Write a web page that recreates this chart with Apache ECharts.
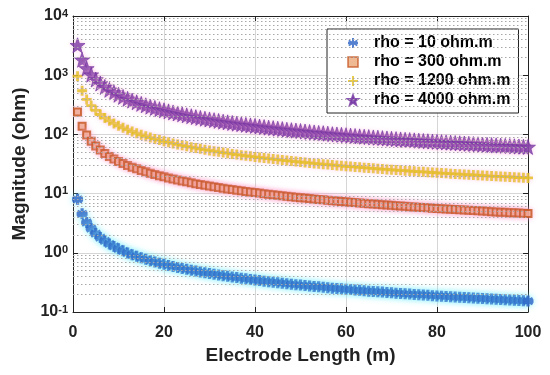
<!DOCTYPE html>
<html>
<head>
<meta charset="utf-8">
<script src="https://cdn.jsdelivr.net/npm/echarts@6/dist/echarts.min.js"></script>
<style>html,body{margin:0;padding:0;background:#fff;}#c{width:550px;height:375px;}</style>
</head>
<body>
<div id="c"></div>
<script>
var lengths = [1,2,3,4,5,6,7,8,9,10,11,12,13,14,15,16,17,18,19,20,21,22,23,24,25,26,27,28,29,30,31,32,33,34,35,36,37,38,39,40,41,42,43,44,45,46,47,48,49,50,51,52,53,54,55,56,57,58,59,60,61,62,63,64,65,66,67,68,69,70,71,72,73,74,75,76,77,78,79,80,81,82,83,84,85,86,87,88,89,90,91,92,93,94,95,96,97,98,99,100];
var rho10 = [8.01,4.55,3.25,2.55,2.11,1.81,1.59,1.41,1.28,1.17,1.08,0.997,0.930,0.872,0.821,0.776,0.736,0.700,0.668,0.639,0.612,0.588,0.565,0.544,0.525,0.507,0.491,0.475,0.461,0.447,0.435,0.423,0.411,0.401,0.390,0.381,0.372,0.363,0.355,0.347,0.339,0.332,0.325,0.319,0.313,0.307,0.301,0.295,0.290,0.285,0.280,0.275,0.270,0.266,0.262,0.257,0.253,0.249,0.246,0.242,0.239,0.235,0.232,0.229,0.225,0.222,0.219,0.217,0.214,0.211,0.208,0.206,0.203,0.201,0.198,0.196,0.194,0.192,0.189,0.187,0.185,0.183,0.181,0.179,0.177,0.176,0.174,0.172,0.170,0.169,0.167,0.165,0.164,0.162,0.161,0.159,0.158,0.156,0.155,0.153];
var rho300 = [240,137,97.5,76.6,63.4,54.3,47.6,42.4,38.3,35.0,32.3,29.9,27.9,26.2,24.6,23.3,22.1,21.0,20.0,19.2,18.4,17.6,17.0,16.3,15.8,15.2,14.7,14.3,13.8,13.4,13.0,12.7,12.3,12.0,11.7,11.4,11.2,10.9,10.6,10.4,10.2,9.97,9.76,9.56,9.38,9.20,9.02,8.85,8.69,8.54,8.39,8.25,8.11,7.97,7.85,7.72,7.60,7.48,7.37,7.26,7.16,7.05,6.95,6.86,6.76,6.67,6.58,6.50,6.41,6.33,6.25,6.17,6.10,6.02,5.95,5.88,5.81,5.75,5.68,5.62,5.56,5.50,5.44,5.38,5.32,5.27,5.21,5.16,5.11,5.06,5.01,4.96,4.91,4.86,4.82,4.77,4.73,4.69,4.64,4.60];
var rho1200 = [961,546,390,306,254,217,190,170,153,140,129,120,112,105,98.5,93.1,88.3,84.0,80.2,76.6,73.4,70.5,67.8,65.3,63.0,60.9,58.9,57.0,55.3,53.7,52.1,50.7,49.3,48.1,46.8,45.7,44.6,43.6,42.6,41.6,40.7,39.9,39.0,38.3,37.5,36.8,36.1,35.4,34.8,34.2,33.6,33.0,32.4,31.9,31.4,30.9,30.4,29.9,29.5,29.0,28.6,28.2,27.8,27.4,27.0,26.7,26.3,26.0,25.6,25.3,25.0,24.7,24.4,24.1,23.8,23.5,23.3,23.0,22.7,22.5,22.2,22.0,21.7,21.5,21.3,21.1,20.8,20.6,20.4,20.2,20.0,19.8,19.6,19.5,19.3,19.1,18.9,18.7,18.6,18.4];
var rho4000 = [3200,1820,1300,1020,845,724,634,566,511,467,430,399,372,349,328,310,294,280,267,255,245,235,226,218,210,203,196,190,184,179,174,169,164,160,156,152,149,145,142,139,136,133,130,128,125,123,120,118,116,114,112,110,108,106,105,103,101,99.8,98.3,96.8,95.4,94.0,92.7,91.4,90.2,88.9,87.8,86.6,85.5,84.4,83.3,82.3,81.3,80.3,79.4,78.4,77.5,76.6,75.8,74.9,74.1,73.3,72.5,71.7,71.0,70.2,69.5,68.8,68.1,67.4,66.8,66.1,65.4,64.8,64.2,63.6,63.0,62.5,61.9,61.3];
var seriesNames = ['rho = 10 ohm.m','rho = 300 ohm.m','rho = 1200 ohm.m','rho = 4000 ohm.m'];
var xTicks = [0,20,40,60,80,100];
var yDecades = [0.1,1,10,100,1000,10000];

function pairs(ys){ return lengths.map(function(x,i){ return [x, ys[i]]; }); }

var minorVals = [];
for (var d = 0; d < yDecades.length - 1; d++) {
  for (var m = 2; m <= 9; m++) minorVals.push({yAxis: +(yDecades[d]*m).toPrecision(3)});
}

var FONT = '"Liberation Sans", Arial, sans-serif';
var asterisk = 'path://M0,-5L0,5M-4.33,-2.5L4.33,2.5M-4.33,2.5L4.33,-2.5M-5,0L5,0';
var plus = 'path://M0,-5L0,5M-5,0L5,0';
var star = 'path://M0,-10L2.35,-3.24L9.51,-3.09L3.8,1.24L5.88,8.09L0,4L-5.88,8.09L-3.8,1.24L-9.51,-3.09L-2.35,-3.24Z';

var chart = echarts.init(document.getElementById('c'), null, {renderer:'canvas'});
chart.setOption({
  animation: false,
  backgroundColor: '#fff',
  textStyle: {fontFamily: FONT},
  grid: {left: 73, right: 22, top: 16, bottom: 63},
  legend: {
    data: [
      {name: seriesNames[0]},
      {name: seriesNames[1], itemStyle: {borderWidth: 1.5}},
      {name: seriesNames[2]},
      {name: seriesNames[3]}
    ],
    orient: 'vertical',
    left: 327, top: 29,
    padding: [6, 8, 5, 20],
    itemWidth: 10, itemHeight: 10, itemGap: 3,
    backgroundColor: '#fff',
    borderColor: '#222', borderWidth: 1,
    textStyle: {fontFamily: FONT, fontWeight: 'bold', fontSize: 16, lineHeight: 14, color: '#000', padding: [0,0,0,11]}
  },
  xAxis: [{
    type: 'value', min: 0, max: 100, interval: 20,
    name: 'Electrode Length (m)', nameLocation: 'middle', nameGap: 34,
    nameTextStyle: {fontFamily: FONT, fontWeight: 'bold', fontSize: 19, color: '#222'},
    axisLine: {show: true, lineStyle: {color: '#222', width: 1}},
    axisTick: {show: true, inside: true, length: 5, lineStyle: {color: '#222'}},
    axisLabel: {fontFamily: FONT, fontWeight: 'bold', fontSize: 16, color: '#222', margin: 13},
    splitLine: {show: true, lineStyle: {color: '#d6d6d6', width: 1}}
  },{
    type: 'value', min: 0, max: 100, interval: 20, position: 'top',
    axisLine: {show: true, onZero: false, lineStyle: {color: '#222', width: 1}},
    axisTick: {show: true, inside: true, length: 5, lineStyle: {color: '#222'}},
    axisLabel: {show: false}, splitLine: {show: false}
  }],
  yAxis: [{
    type: 'log', logBase: 10, min: 0.1, max: 10000,
    name: 'Magnitude (ohm)', nameLocation: 'middle', nameGap: 38,
    nameTextStyle: {fontFamily: FONT, fontWeight: 'bold', fontSize: 19, color: '#222'},
    axisLine: {show: true, lineStyle: {color: '#222', width: 1}},
    axisTick: {show: true, inside: true, length: 5, lineStyle: {color: '#222'}},
    axisLabel: {
      margin: 5,
      formatter: function(v){ var e = Math.round(Math.log10(v)); return '{b|10}{s|' + e + '}'; },
      rich: {
        b: {fontFamily: FONT, fontWeight: 'bold', fontSize: 16, lineHeight: 16, color: '#222', verticalAlign: 'bottom'},
        s: {fontFamily: FONT, fontWeight: 'bold', fontSize: 11, lineHeight: 11, color: '#222', verticalAlign: 'top', padding: [0,0,8,0]}
      }
    },
    splitLine: {show: true, lineStyle: {color: '#d6d6d6', width: 1}}
  },{
    type: 'log', logBase: 10, min: 0.1, max: 10000, position: 'right',
    axisLine: {show: true, onZero: false, lineStyle: {color: '#222', width: 1}},
    axisTick: {show: true, inside: true, length: 5, lineStyle: {color: '#222'}},
    axisLabel: {show: false}, splitLine: {show: false}
  }],
  series: [
    {
      name: 'minorgrid', type: 'line', data: [], silent: true, z: 1,
      markLine: {silent: true, symbol: ['none','none'], label: {show: false},
        lineStyle: {type: [1.5, 2.5], color: '#a8a8a8', width: 1}, data: minorVals, animation: false}
    },
    {
      name: seriesNames[0], type: 'scatter', data: pairs(rho10), z: 3,
      symbol: asterisk, symbolSize: 11,
      itemStyle: {color: '#2a62c4', borderColor: '#2a62c4', borderWidth: 3.2, shadowColor: 'rgba(120,240,255,0.9)', shadowBlur: 6}
    },
    {
      name: seriesNames[1], type: 'scatter', data: pairs(rho300), z: 3,
      symbol: 'rect', symbolSize: 7,
      itemStyle: {color: '#eaa878', borderColor: '#c4521e', borderWidth: 2, shadowColor: 'rgba(255,170,210,0.8)', shadowBlur: 5}
    },
    {
      name: seriesNames[2], type: 'scatter', data: pairs(rho1200), z: 3,
      symbol: plus, symbolSize: 10,
      itemStyle: {color: '#e3bf1e', borderColor: '#e3bf1e', borderWidth: 2.8, shadowColor: 'rgba(255,180,220,0.7)', shadowBlur: 4}
    },
    {
      name: seriesNames[3], type: 'scatter', data: pairs(rho4000), z: 3,
      symbol: star, symbolSize: 15,
      itemStyle: {color: '#7232a0', borderColor: '#7232a0', borderWidth: 0.8, shadowColor: 'rgba(255,170,220,0.6)', shadowBlur: 4}
    }
  ]
});
</script>
</body>
</html>
